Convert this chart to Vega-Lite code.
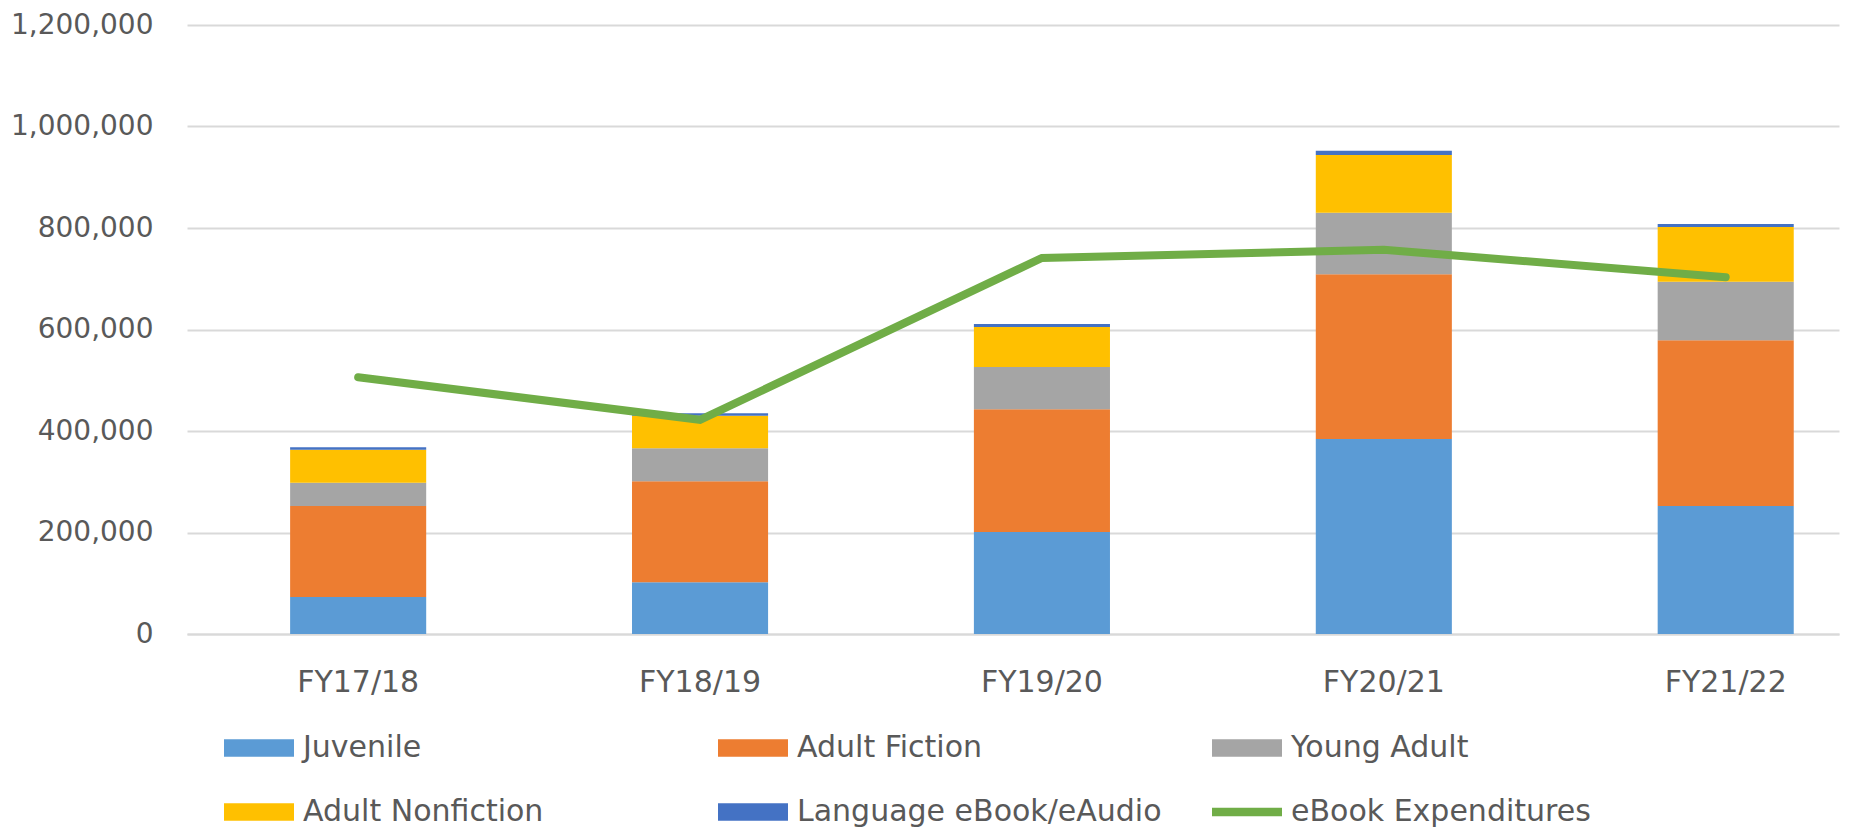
{
  "$schema": "https://vega.github.io/schema/vega-lite/v6.json",
  "width": 1652,
  "height": 609,
  "autosize": "none",
  "padding": {"left": 187, "top": 25, "right": 11, "bottom": 198},
  "background": "#ffffff",
  "config": {
    "view": {"stroke": null},
    "font": "DejaVu Sans"
  },
  "datasets": {
    "bars": [
      {"fy": "FY17/18", "series": "Juvenile", "value": 73000},
      {"fy": "FY17/18", "series": "Adult Fiction", "value": 179000},
      {"fy": "FY17/18", "series": "Young Adult", "value": 46000},
      {"fy": "FY17/18", "series": "Adult Nonfiction", "value": 65000},
      {"fy": "FY17/18", "series": "Language eBook/eAudio", "value": 5000},
      {"fy": "FY18/19", "series": "Juvenile", "value": 102000},
      {"fy": "FY18/19", "series": "Adult Fiction", "value": 199000},
      {"fy": "FY18/19", "series": "Young Adult", "value": 65000},
      {"fy": "FY18/19", "series": "Adult Nonfiction", "value": 64000},
      {"fy": "FY18/19", "series": "Language eBook/eAudio", "value": 5000},
      {"fy": "FY19/20", "series": "Juvenile", "value": 201000},
      {"fy": "FY19/20", "series": "Adult Fiction", "value": 242000},
      {"fy": "FY19/20", "series": "Young Adult", "value": 83000},
      {"fy": "FY19/20", "series": "Adult Nonfiction", "value": 79000},
      {"fy": "FY19/20", "series": "Language eBook/eAudio", "value": 6000},
      {"fy": "FY20/21", "series": "Juvenile", "value": 384000},
      {"fy": "FY20/21", "series": "Adult Fiction", "value": 325000},
      {"fy": "FY20/21", "series": "Young Adult", "value": 121000},
      {"fy": "FY20/21", "series": "Adult Nonfiction", "value": 114000},
      {"fy": "FY20/21", "series": "Language eBook/eAudio", "value": 8000},
      {"fy": "FY21/22", "series": "Juvenile", "value": 252000},
      {"fy": "FY21/22", "series": "Adult Fiction", "value": 327000},
      {"fy": "FY21/22", "series": "Young Adult", "value": 115000},
      {"fy": "FY21/22", "series": "Adult Nonfiction", "value": 108000},
      {"fy": "FY21/22", "series": "Language eBook/eAudio", "value": 6000}
    ],
    "line": [
      {"fy": "FY17/18", "expenditures": 506000},
      {"fy": "FY18/19", "expenditures": 422000},
      {"fy": "FY19/20", "expenditures": 741000},
      {"fy": "FY20/21", "expenditures": 757000},
      {"fy": "FY21/22", "expenditures": 703000}
    ]
  },
  "encoding": {
    "x": {
      "field": "fy",
      "type": "nominal",
      "sort": ["FY17/18", "FY18/19", "FY19/20", "FY20/21", "FY21/22"],
      "scale": {"paddingInner": 0.602, "paddingOuter": 0.217, "align": 0.695},
      "axis": {
        "title": null,
        "labelAngle": 0,
        "ticks": false,
        "tickSize": 0,
        "domain": true,
        "domainColor": "#D9D9D9",
        "domainWidth": 2,
        "labelFontSize": 30,
        "labelColor": "#595959",
        "labelBaseline": "middle",
        "labelPadding": 48
      }
    }
  },
  "layer": [
    {
      "data": {"name": "bars"},
      "transform": [
        {"calculate": "indexof(['Juvenile','Adult Fiction','Young Adult','Adult Nonfiction','Language eBook/eAudio'], datum.series)", "as": "stackOrder"}
      ],
      "mark": {"type": "bar"},
      "encoding": {
        "y": {
          "field": "value",
          "type": "quantitative",
          "stack": "zero",
          "scale": {"domain": [0, 1200000], "nice": false},
          "axis": {
            "title": null,
            "values": [0, 200000, 400000, 600000, 800000, 1000000, 1200000],
            "format": ",d",
            "domain": false,
            "ticks": false,
            "tickSize": 0,
            "grid": true,
            "gridColor": "#D9D9D9",
            "gridWidth": 2,
            "labelFontSize": 28,
            "labelColor": "#595959",
            "labelPadding": 34
          }
        },
        "order": {"field": "stackOrder", "type": "quantitative", "sort": "ascending"},
        "color": {
          "field": "series",
          "type": "nominal",
          "scale": {
            "domain": ["Juvenile", "Adult Fiction", "Young Adult", "Adult Nonfiction", "Language eBook/eAudio", "eBook Expenditures"],
            "range": ["#5B9BD5", "#ED7D31", "#A5A5A5", "#FFC000", "#4472C4", "#70AD47"]
          },
          "legend": {
            "title": null,
            "orient": "none",
            "legendX": 37,
            "legendY": 688,
            "direction": "horizontal",
            "columns": 3,
            "gridAlign": "all",
            "columnPadding": 50,
            "rowPadding": 14,
            "padding": 0,
            "labelFontSize": 30,
            "labelColor": "#595959",
            "labelOffset": 9,
            "labelLimit": 460,
            "symbolSize": 4900,
            "symbolStrokeWidth": 0,
            "symbolOpacity": 1,
            "encode": {
              "symbols": {
                "update": {
                  "shape": {"signal": "datum.label === 'eBook Expenditures' ? 'M-1,-0.12H1V0.12H-1Z' : 'M-1,-0.25H1V0.25H-1Z'"},
                  "fill": {"scale": "color", "field": "value"},
                  "stroke": {"value": "transparent"},
                  "opacity": {"value": 1}
                }
              }
            }
          }
        }
      }
    },
    {
      "data": {"name": "line"},
      "mark": {"type": "line", "strokeWidth": 8, "strokeCap": "round", "strokeJoin": "miter"},
      "encoding": {
        "y": {"field": "expenditures", "type": "quantitative"},
        "color": {"datum": "eBook Expenditures"}
      }
    }
  ]
}
